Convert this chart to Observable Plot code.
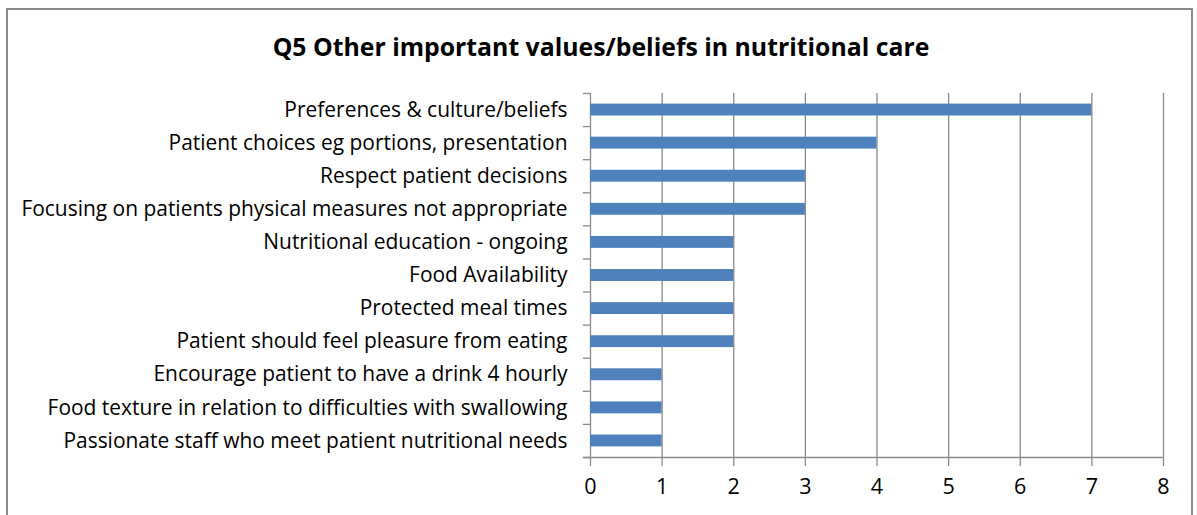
<!DOCTYPE html>
<html>
<head>
<meta charset="utf-8">
<script src="https://cdn.jsdelivr.net/npm/d3@7"></script>
<script src="https://cdn.jsdelivr.net/npm/@observablehq/plot@0.6"></script>
<style>
  html, body { margin: 0; padding: 0; background: #fff; }
  #wrap { position: relative; width: 1197px; height: 515px; overflow: hidden; font-family: "Open Sans", "Liberation Sans", sans-serif; }
  #border { position: absolute; left: 6px; top: 8px; width: 1187px; height: 520px; border: 2px solid #8a8a8a; box-sizing: border-box; }
  #title { position: absolute; left: 0; top: 29px; width: 1202px; text-align: center; font-size: 24.8px; font-weight: bold; color: #000; }
  #chart { position: absolute; left: 0; top: 0; }
</style>
</head>
<body>
<div id="wrap">
  <div id="border"></div>
  <div id="title">Q5 Other important values/beliefs in nutritional care</div>
  <div id="chart"></div>
</div>
<script>
const categories = [
  "Preferences & culture/beliefs",
  "Patient choices eg portions, presentation",
  "Respect patient decisions",
  "Focusing on patients physical measures not appropriate",
  "Nutritional education - ongoing",
  "Food Availability",
  "Protected meal times",
  "Patient should feel pleasure from eating",
  "Encourage patient to have a drink 4 hourly",
  "Food texture in relation to difficulties with swallowing",
  "Passionate staff who meet patient nutritional needs"
];
const values = [7, 4, 3, 3, 2, 2, 2, 2, 1, 1, 1];
const xTicks = [0, 1, 2, 3, 4, 5, 6, 7, 8];

const rows = categories.map((c, i) => ({category: c, value: values[i], idx: i}));
const bounds = d3.range(categories.length + 1);
const grey = "#8a8a8a";

const plot = Plot.plot({
  width: 1197,
  height: 515,
  marginLeft: 590,
  marginRight: 34,
  marginTop: 93,
  marginBottom: 58,
  style: {fontFamily: "Open Sans, Liberation Sans, sans-serif", fontSize: "20px", color: "#000", background: "transparent"},
  x: {domain: [0, 8], label: null},
  y: {domain: [0, categories.length], reverse: true, label: null},
  marks: [
    Plot.ruleX(xTicks, {y1: 0, y2: categories.length, stroke: grey, strokeWidth: 1.3}),
    Plot.ruleY([categories.length], {x1: -0.1, x2: 8, stroke: grey, strokeWidth: 1.3}),
    Plot.ruleY(bounds, {x1: -0.1, x2: 0, stroke: grey, strokeWidth: 1.3}),
    Plot.rectX(rows, {x1: 0, x2: "value", y1: d => d.idx + 0.32, y2: d => d.idx + 0.68, fill: "#4F81BD"}),
    Plot.axisY(d3.range(categories.length).map(i => i + 0.5), {
      tickSize: 0, tickPadding: 23, tickFormat: v => categories[Math.floor(v)], fontSize: 20.95, fill: "#000"
    }),
    Plot.axisX(xTicks, {
      tickSize: 9, tickPadding: 12, tickFormat: d => String(d), stroke: grey, strokeWidth: 1.3, fontSize: 21.5, fill: "#000", strokeOpacity: 1
    })
  ]
});
document.getElementById("chart").appendChild(plot);
</script>
</body>
</html>
